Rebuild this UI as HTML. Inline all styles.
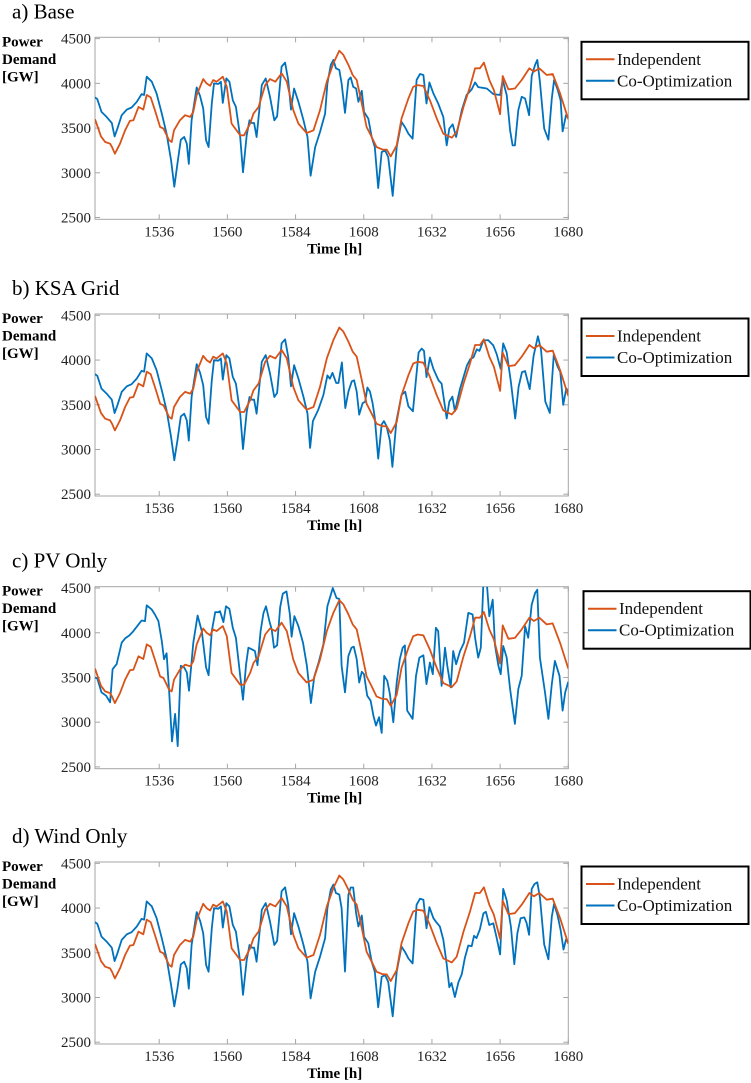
<!DOCTYPE html>
<html><head><meta charset="utf-8"><style>
html,body{margin:0;padding:0;background:#fff;}
svg{display:block;font-family:"Liberation Serif",serif;}
</style></head><body>
<svg id="chart" width="751" height="1083" viewBox="0 0 751 1083" xmlns="http://www.w3.org/2000/svg"></svg>
<script>
const xTicks = [1536, 1560, 1584, 1608, 1632, 1656, 1680];
const yTicks = [2500, 3000, 3500, 4000, 4500];
const panelTitles = ["a) Base", "b) KSA Grid", "c) PV Only", "d) Wind Only"];
const legendLabels = ["Independent", "Co-Optimization"];

const indepHours = [1513.4,1515.5,1517,1518.7,1519.4,1520.4,1522.2,1524,1525.7,1526.9,1528.7,1530.4,1531.6,1533,1534.5,1536.3,1537.5,1539.5,1540.4,1541.2,1543.3,1545.1,1546.9,1548,1549.2,1551.5,1552.7,1553.9,1555,1556.2,1558.4,1559.8,1561.5,1564.5,1565.9,1568,1569.2,1571,1573.3,1575,1576.9,1579.1,1580.9,1583.2,1585,1587.9,1590.3,1592.6,1595,1597.3,1599.4,1600.8,1602.6,1604.1,1605.5,1607.3,1609,1610.8,1612.5,1614.6,1616.1,1617.5,1619.6,1621.3,1623.7,1625.4,1627,1629,1631.3,1633.7,1636,1639,1640.7,1643.1,1645.4,1647.2,1648.9,1650.3,1652.2,1653.8,1656,1656.9,1658.9,1661.2,1663.6,1666.3,1667.9,1669.8,1672.4,1674.5,1677.1,1680];
const indepValues = [3599,3407,3344,3325,3288,3213,3325,3475,3580,3587,3737,3707,3870,3843,3700,3512,3494,3363,3344,3475,3587,3644,3625,3681,3870,4048,4000,3973,4037,4018,4074,3962,3550,3419,3419,3550,3662,3737,3981,4048,4018,4112,4018,3700,3550,3445,3475,3700,4018,4224,4364,4319,4206,4094,4037,3775,3512,3400,3288,3261,3258,3183,3306,3606,3831,3962,3981,3970,3812,3606,3437,3392,3456,3737,3962,4168,4168,4232,4037,3925,3655,4082,3932,3943,4037,4168,4131,4168,4094,4105,3887,3599];

const baseCoHours = [1513.4,1514.2,1515.7,1517.5,1519.3,1520.3,1521.3,1522.8,1524.6,1526.3,1528.1,1529.8,1530.7,1531.6,1533.4,1535.1,1536.9,1538.6,1540.2,1541.3,1542.4,1543.6,1544.8,1545.7,1546.4,1547.4,1549.2,1550.4,1551.5,1552.5,1553.4,1554.5,1555.3,1556.8,1557.7,1558.4,1559.6,1560.7,1561.9,1563,1564.5,1565.5,1566.8,1567.8,1568.6,1569.4,1570.3,1572.1,1573.5,1575,1576.5,1577.5,1579.1,1580.3,1581.4,1582.4,1583.5,1585,1586.8,1588.2,1589.3,1590.9,1592.6,1594.4,1595.2,1596.4,1597.3,1598.2,1599.4,1600.2,1601.4,1602.6,1603.4,1604.3,1605.3,1606.1,1607.3,1608.1,1609.6,1610.8,1611.9,1613.1,1614.3,1615.5,1616.6,1618.2,1619.6,1621.3,1622.5,1623.7,1625.2,1626.6,1627.8,1629,1630.1,1631.1,1632.5,1634.2,1636,1637.2,1638.1,1639.3,1640.5,1642.5,1644.2,1646,1647.2,1648.3,1651.3,1653.6,1656,1656.9,1658.3,1659.5,1660.4,1661.2,1662.4,1663.6,1664.8,1666.2,1667.1,1668.3,1669.1,1670,1671.5,1673,1674.2,1675,1676.3,1677.3,1678,1679.2,1680];
const baseCoValues = [3843,3824,3681,3625,3557,3407,3494,3644,3707,3730,3794,3880,3870,4074,4018,3887,3662,3437,3137,2845,3100,3370,3400,3325,3100,3587,3955,3858,3719,3363,3288,3775,4000,3993,4018,3782,4056,4018,3812,3737,3400,3006,3419,3587,3557,3557,3400,3981,4056,3850,3587,3632,4187,4232,4037,3707,3943,3794,3587,3400,2968,3288,3456,3662,4000,4206,4262,4168,4150,4000,3670,4037,4067,3962,3943,3794,3917,3681,3606,3400,3288,2830,3231,3250,3175,2743,3288,3569,3512,3437,3381,4037,4105,4094,3775,4011,3887,3775,3625,3306,3494,3542,3400,3700,3870,3932,4011,3958,3943,3880,3870,4037,3870,3475,3306,3306,3700,3850,3831,3644,4082,4206,4262,4018,3494,3370,3831,4037,3925,3812,3463,3644,3617];

const gridCoHours = [1513.4,1514.2,1515.7,1517.5,1519.3,1520.3,1521.3,1522.8,1524.6,1526.3,1528.1,1529.8,1530.7,1531.6,1533.4,1535.1,1536.9,1538.6,1540.2,1541.3,1542.4,1543.6,1544.8,1545.7,1546.4,1547.4,1549.2,1550.4,1551.5,1552.5,1553.4,1554.5,1555.3,1556.8,1557.7,1558.4,1559.6,1560.7,1561.9,1563,1564.5,1565.5,1566.8,1567.8,1568.6,1569.4,1570.3,1572.1,1573.5,1575,1576.5,1577.5,1579.1,1580.3,1581.4,1582.4,1583.5,1585,1586.8,1588.2,1589.1,1590.1,1592,1593.8,1595.2,1596.1,1597,1598.3,1599.1,1600.3,1601.5,1602.6,1603.8,1604.6,1605.5,1606.4,1607.6,1608.5,1609.3,1610.2,1611.1,1611.9,1613.1,1614.3,1615.1,1616,1617.2,1618.1,1619.5,1621.3,1622.6,1623.7,1625.3,1627.3,1628.4,1629.2,1630.1,1631.3,1632.5,1634.3,1635.4,1637.2,1638.1,1639.2,1640.1,1641.9,1644.3,1645.5,1646.6,1647.8,1648.7,1650.1,1651.8,1653.6,1654.8,1656.2,1657.1,1658.3,1659.8,1661.3,1662.5,1663.7,1664.8,1666.4,1667.8,1669.3,1670.4,1671.9,1673.5,1674.9,1676.1,1677.2,1678.2,1679.3,1680];
const gridCoValues = [3843,3824,3681,3625,3557,3407,3494,3644,3707,3730,3794,3880,3870,4074,4018,3887,3662,3437,3137,2880,3100,3370,3400,3325,3100,3587,3955,3858,3719,3363,3288,3775,4000,3993,4018,3782,4056,4018,3812,3737,3400,3006,3419,3587,3557,3557,3400,3981,4056,3850,3587,3632,4187,4232,4037,3707,3943,3794,3587,3400,3018,3317,3445,3609,3828,3792,3858,3744,3744,3974,3463,3646,3763,3774,3646,3390,3518,3536,3693,3646,3518,3354,2898,3281,3317,3263,3098,2806,3317,3609,3646,3482,3427,4084,4128,4102,3810,4029,3901,3774,3737,3347,3536,3591,3427,3682,3938,4011,4029,4120,4102,4219,4223,4164,4066,3901,4186,4084,3755,3347,3701,3865,3876,3675,4047,4266,4120,3536,3409,4066,3938,3865,3500,3682,3646];

const pvCoHours = [1513.4,1514.2,1515.7,1517.3,1518.7,1519.6,1521,1522.8,1524,1525.5,1526.9,1528.7,1529.8,1531,1531.6,1533.4,1534.5,1535.7,1536.9,1537.7,1538.6,1539.5,1540.5,1541.6,1542.5,1543.6,1544.8,1545.7,1546.5,1548,1549.5,1551,1552.5,1553.4,1554.5,1555.7,1556.8,1557.4,1558.6,1559.5,1560.7,1561.9,1563,1564.5,1565.5,1566.6,1567.4,1568.6,1569.7,1570.6,1571.7,1572.7,1573.6,1574.8,1575.6,1576.4,1577.5,1578.6,1579.5,1580.8,1582,1582.6,1583.6,1585,1586.6,1588,1589.4,1590.6,1592.1,1593.8,1595.2,1597.1,1598.4,1599.4,1600.2,1601.4,1602.6,1603.7,1604.5,1605.5,1606.4,1607.3,1608.1,1609.2,1610.4,1611.4,1612.3,1613.4,1614.3,1615.2,1616.3,1617.2,1618.4,1619.6,1620.7,1621.7,1622.5,1623.3,1625.2,1626.4,1627.6,1629,1630.1,1631.3,1632.3,1633.4,1634.2,1635.4,1636.6,1637.4,1638.6,1639.5,1640.5,1641.9,1643.3,1644.8,1646.3,1647.2,1648.3,1649.2,1650.1,1651.3,1652.2,1653.4,1654.2,1655.4,1656.2,1657.1,1658.3,1659.5,1661.2,1662.4,1663.6,1664.8,1665.9,1667.1,1668.3,1669.1,1670,1671.8,1673,1674.2,1675.3,1676.9,1678,1678.9,1680];
const pvCoValues = [3500,3489,3333,3296,3222,3593,3648,3889,3937,3970,4019,4093,4137,4130,4307,4259,4204,4130,3907,3704,3770,3352,2785,3093,2733,3630,3611,3556,3352,3889,4193,4019,3611,3526,4019,4230,4230,4241,4119,4296,4267,4056,3944,3519,3252,3648,3833,3815,3796,3637,4019,4222,4296,4130,4037,3833,3859,4289,4437,4463,4204,3956,4185,4074,3889,3630,3215,3511,3667,3870,4296,4500,4389,4378,3630,3333,3741,3833,3844,3704,3444,3563,3537,3296,3241,3074,2963,3056,2881,3519,3463,3315,3000,3444,3704,3833,3859,3130,3037,3519,3722,3748,3426,3667,3537,4056,4019,3407,3833,3630,3389,3796,3648,3796,3889,4222,4204,3944,3722,3833,4560,4560,4185,4370,3859,3630,3537,3852,3722,3370,2981,3370,3519,4074,3944,4315,4444,4481,3722,3333,3037,3426,3685,3519,3130,3333,3452];

const windCoHours = [1513.4,1514.2,1515.7,1517.5,1519.3,1520.3,1521.3,1522.8,1524.6,1526.3,1528.1,1529.8,1530.7,1531.6,1533.4,1535.1,1536.9,1538.6,1540.2,1541.3,1542.4,1543.6,1544.8,1545.7,1546.4,1547.4,1549.2,1550.4,1551.5,1552.5,1553.4,1554.5,1555.3,1556.8,1557.7,1558.4,1559.6,1560.7,1561.9,1563,1564.5,1565.5,1566.8,1567.8,1568.6,1569.4,1570.3,1572.1,1573.5,1575,1576.5,1577.5,1579.1,1580.3,1581.4,1582.4,1583.5,1585,1586.8,1588.2,1589.3,1590.9,1592.6,1594.4,1595.2,1596.4,1597.3,1598.2,1599.4,1600.2,1601.4,1602.6,1603.4,1604.3,1605.3,1606.1,1607.3,1608.1,1609.6,1610.8,1611.9,1613.1,1614.3,1615.5,1616.6,1618.2,1619.6,1621.3,1622.5,1623.7,1625.2,1626.6,1627.8,1629,1630.1,1631.1,1632.5,1633.4,1634.8,1636,1637.2,1638.1,1638.9,1640.1,1641.3,1642.5,1643.6,1644.8,1646,1646.8,1647.7,1648.9,1650.1,1651,1652.2,1653.6,1654.8,1656,1657.1,1658.3,1659.8,1661,1662.1,1663.2,1664.5,1665.3,1666.2,1667.1,1668.1,1669.1,1670,1671.5,1673,1674.2,1675,1676.2,1677.3,1678.3,1679.2,1680];
const windCoValues = [3843,3824,3681,3625,3557,3407,3494,3644,3707,3730,3794,3880,3870,4074,4018,3887,3662,3437,3137,2900,3100,3370,3400,3325,3100,3587,3955,3858,3719,3363,3288,3775,4000,3993,4018,3782,4056,4018,3812,3737,3400,3030,3419,3587,3557,3557,3400,3981,4056,3850,3587,3632,4187,4232,4037,3707,3943,3794,3587,3400,2990,3288,3456,3662,4000,4206,4262,4168,4150,4000,3290,4150,4230,4230,3943,3794,3917,3681,3606,3400,3288,2890,3231,3250,3175,2790,3288,3569,3512,3437,3381,4037,4105,4094,3775,4011,3887,3848,3793,3647,3372,3115,3163,3005,3170,3262,3445,3581,3573,3690,3664,3763,3940,3958,3811,3830,3664,3482,4214,4086,3793,3372,3720,3885,3896,3837,3701,4214,4269,4288,4123,3592,3427,3903,4049,3921,3756,3537,3647,3617];

const panelCoHours = [baseCoHours, gridCoHours, pvCoHours, windCoHours];
const panelCoValues = [baseCoValues, gridCoValues, pvCoValues, windCoValues];

const NS = "http://www.w3.org/2000/svg";
const svg = document.getElementById("chart");
const panelTops = [37.3, 314, 586.7, 862];
const PH = 182, PL = 95, PR = 568.3;
const xMin = 1513.4, xMax = 1680, yMin = 2480, yMax = 4515;
const ORANGE = "#D95319", BLUE = "#0072BD";

function mk(tag, attrs, parent) {
  const e = document.createElementNS(NS, tag);
  for (const k in attrs) e.setAttribute(k, attrs[k]);
  (parent || svg).appendChild(e);
  return e;
}
function xScale(h) { return PL + (h - xMin) / (xMax - xMin) * (PR - PL); }
function yScale(v, top) { return top + PH - (v - yMin) / (yMax - yMin) * PH; }

panelTitles.forEach((title, p) => {
  const top = panelTops[p], bot = top + PH;
  const g = mk("g", {});
  
  

  const t = mk("text", {x: 12, y: top - 19, "font-size": 21, fill: "#000"}, g);
  t.textContent = title;
  
  

  const yl = mk("text", {x: 2, y: top + 9, "font-size": 15, "font-weight": "bold", fill: "#000"}, g);
  
  
  ["Power", "Demand", "[GW]"].forEach((w, i) => {
    const ts = mk("tspan", {x: 2, dy: i === 0 ? 0 : 17.5}, yl);
    ts.textContent = w;
  });

  const clipId = "clip" + p;
  const cp = mk("clipPath", {id: clipId}, g);
  mk("rect", {x: PL, y: top, width: PR - PL, height: PH}, cp);

  const frame = mk("rect", {x: PL, y: top, width: PR - PL, height: PH, fill: "none", stroke: "#a6a6a6", "stroke-width": 1}, g);
  
  

  xTicks.forEach(h => {
    const x = xScale(h);
    mk("line", {x1: x, x2: x, y1: bot, y2: bot - 5, stroke: "#a6a6a6"}, g);
    mk("line", {x1: x, x2: x, y1: top, y2: top + 5, stroke: "#a6a6a6"}, g);
    const lb = mk("text", {x: x, y: bot + 17, "font-size": 15, "text-anchor": "middle", fill: "#222"}, g);
    lb.textContent = h;
    
    
  });
  yTicks.forEach(v => {
    const y = yScale(v, top);
    mk("line", {x1: PL, x2: PL + 5, y1: y, y2: y, stroke: "#a6a6a6"}, g);
    mk("line", {x1: PR, x2: PR - 5, y1: y, y2: y, stroke: "#a6a6a6"}, g);
    const lb = mk("text", {x: 91, y: y + 5, "font-size": 15, "text-anchor": "end", fill: "#222"}, g);
    lb.textContent = v;
    
    
  });

  const xl = mk("text", {x: (PL + PR) / 2 + 3, y: bot + 34, "font-size": 15, "font-weight": "bold", "text-anchor": "middle", fill: "#000"}, g);
  xl.textContent = "Time [h]";
  
  

  const series = [[panelCoHours[p], panelCoValues[p], BLUE, 'co-optimization-line'], [indepHours, indepValues, ORANGE, 'independent-line']];
  series.forEach(([hs, vs, col, nm]) => {
    const pts = hs.map((h, i) => xScale(h).toFixed(1) + "," + yScale(vs[i], top).toFixed(1)).join(" ");
    const pl = mk("polyline", {points: pts, fill: "none", stroke: col, "stroke-width": 1.8, "stroke-linejoin": "round", "clip-path": "url(#" + clipId + ")"}, g);
    
    
  });

  const lg = mk("g", {}, g);
  
  
  const lx = p === 2 ? 583.5 : 581.5, ly = top + 4.5;
  mk("rect", {x: lx, y: ly, width: 167, height: 57.5, fill: "#fff", stroke: "#000", "stroke-width": 2}, lg);
  [ORANGE, BLUE].forEach((col, i) => {
    const cy = ly + 17.5 + i * 21.5;
    mk("line", {x1: lx + 4.5, x2: lx + 33, y1: cy, y2: cy, stroke: col, "stroke-width": 2}, lg);
    const tx = mk("text", {x: lx + 35.5, y: cy + 5.5, "font-size": 17, fill: "#111"}, lg);
    tx.textContent = legendLabels[i];
    
    
  });
});
</script>
</body></html>
